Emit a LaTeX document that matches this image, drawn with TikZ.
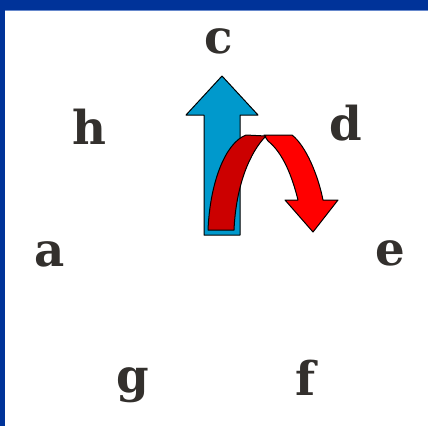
\documentclass[tikz,border=0pt]{standalone}
\usepackage{fontspec}
\usepackage{tikz}
\usetikzlibrary{positioning}
\newfontfamily\letterfont{DejaVu Serif}[BoldFont={DejaVu Serif Bold}]
\definecolor{frameblue}{RGB}{0,51,153}
\definecolor{framelight}{RGB}{102,136,204}
\definecolor{arrowblue}{RGB}{0,153,204}
\definecolor{arrowdark}{RGB}{204,0,0}
\definecolor{arrowred}{RGB}{255,0,0}
\definecolor{lettergray}{RGB}{51,48,45}
\tikzset{
  letter/.style={anchor=base,inner sep=0.75pt,text=lettergray,font=\letterfont\bfseries\fontsize{35}{42}\selectfont},
  arrowpart/.style={draw=black,line width=0.75,line join=round}
}

\begin{document}
\begin{tikzpicture}[x=0.75pt,y=0.75pt,yscale=-1,xscale=1]
\useasboundingbox (0,0) rectangle (428,426);
\fill[white] (0,0) rectangle (428,426);

%Frame
\fill[frameblue] (0,0) rectangle (428,10);
\fill[frameblue] (0,0) rectangle (5,426);
\draw[framelight, line width=0.75] (5,10.5) -- (428,10.5);

%Shape: Up Arrow [blue]
\draw[arrowpart, fill=arrowblue] (204,235) -- (204,115) -- (186,115) -- (222,76) -- (258,115) -- (240,115) -- (240,235) -- cycle ;

%Shape: Curved Arrow [right half]
\draw[arrowpart, fill=arrowred] (264,135) -- (292,135) .. controls (306,146) and (318,175) .. (323,200) -- (338,200) -- (313,232) -- (285,200) -- (298,200) .. controls (292,176) and (283,153) .. (268,141) -- cycle ;
%Shape: Curved Arrow [left half]
\draw[arrowpart, fill=arrowdark] (208,230) .. controls (210,183) and (225,143) .. (246,135) -- (266,136) .. controls (250,152) and (236,185) .. (234,230) -- cycle ;

% Text Node
\node[letter] (c) at (219,53) {c};
% Text Node
\node[letter] (d) at (346,140) {d};
% Text Node
\node[letter] (h) at (89,144) {h};
% Text Node
\node[letter] (a) at (50,266) {a};
% Text Node
\node[letter] (e) at (390,265) {e};
% Text Node
\node[letter] (g) at (133,392) {g};
% Text Node
\node[letter] (f) at (306,395) {f};

\end{tikzpicture}
\end{document}
